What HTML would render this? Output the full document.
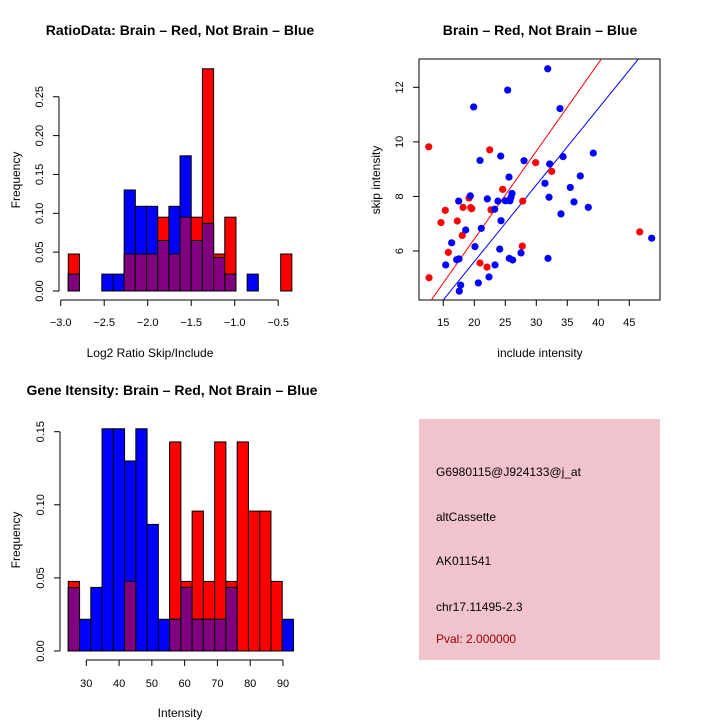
<!DOCTYPE html>
<html><head><meta charset="utf-8"><style>
body{margin:0;background:#fff}
svg{display:block;font-family:"Liberation Sans",sans-serif}
</style></head><body>
<svg id="chart" width="720" height="720" viewBox="0 0 720 720">
<rect width="720" height="720" fill="#fff"/>
<text x="180" y="35" text-anchor="middle" font-size="14" font-weight="bold">RatioData: Brain – Red, Not Brain – Blue</text>
<text x="540" y="35" text-anchor="middle" font-size="14" font-weight="bold">Brain – Red, Not Brain – Blue</text>
<text x="172" y="395" text-anchor="middle" font-size="14" font-weight="bold">Gene Itensity: Brain – Red, Not Brain – Blue</text>
<text x="150" y="357" text-anchor="middle" font-size="12">Log2 Ratio Skip/Include</text>
<text x="20" y="180" text-anchor="middle" font-size="12" transform="rotate(-90 20 180)">Frequency</text>
<text x="540" y="357" text-anchor="middle" font-size="12">include intensity</text>
<text x="380" y="180" text-anchor="middle" font-size="12" transform="rotate(-90 380 180)">skip intensity</text>
<text x="180" y="717" text-anchor="middle" font-size="12">Intensity</text>
<text x="20" y="540" text-anchor="middle" font-size="12" transform="rotate(-90 20 540)">Frequency</text>
<g>
<rect x="419" y="419" width="241" height="241" fill="#f1c3cd"/>
<text x="436" y="476" font-size="12">G6980115@J924133@j_at</text>
<text x="436" y="521" font-size="12">altCassette</text>
<text x="436" y="565" font-size="12">AK011541</text>
<text x="436" y="611" font-size="12">chr17.11495-2.3</text>
<text x="436" y="643" font-size="12" fill="#a00000">Pval: 2.000000</text>
</g>
<g id="g1"></g><g id="g2"></g><g id="g3"></g>
</svg>
<script>
const ratioRed=[0.0476,0,0,0,0,0.0476,0.0476,0.0476,0.095,0.0476,0.095,0.095,0.286,0.0476,0.095,0,0,0,0,0.0476];
const ratioBlue=[0.0217,0,0,0.0217,0.0217,0.130,0.109,0.109,0.065,0.109,0.174,0.065,0.087,0.043,0.0217,0,0.0217,0,0,0];
const ratioStart=-2.913, ratioWidth=0.1285;
const ratioXTicks=[-3.0,-2.5,-2.0,-1.5,-1.0,-0.5];
const freqTicks1=[0,0.05,0.10,0.15,0.20,0.25];

const intRed=[0.0476,0,0,0,0,0.0476,0,0,0,0.143,0.0476,0.0957,0.0476,0.143,0.0476,0.143,0.0957,0.0957,0.0476,0];
const intBlue=[0.0433,0.0217,0.0435,0.152,0.152,0.130,0.152,0.0866,0.0217,0.0217,0.0435,0.0217,0.0217,0.0217,0.0435,0,0,0,0,0.0217];
const intStart=24.5, intWidth=3.435;
const intXTicks=[30,40,50,60,70,80,90];
const freqTicks3=[0,0.05,0.10,0.15];

const redX=[12.65,12.7,14.63,15.32,15.81,17.26,18.06,18.18,19.15,19.42,19.58,20.92,22.05,22.48,22.69,24.58,27.81,27.74,29.9,32.48,46.68];
const redY=[9.82,5.02,7.04,7.49,5.95,7.10,6.57,7.60,7.94,7.59,7.55,5.56,5.41,9.71,7.51,8.26,7.83,6.18,9.24,8.92,6.70];
const blueX=[15.39,16.35,17.48,17.16,17.53,17.8,17.58,18.61,19.35,19.9,20.11,20.65,20.92,21.13,22.1,22.37,23.29,23.34,23.82,24.1,24.26,24.31,25.0,25.38,25.6,25.65,25.76,25.92,26.08,26.19,27.53,28.02,31.4,31.84,31.89,32.05,32.16,33.82,33.98,34.31,35.48,36.08,37.1,38.39,39.19,48.61];
const blueY=[5.49,6.30,7.83,5.68,5.71,4.75,4.53,6.77,8.02,11.28,6.16,4.83,9.32,6.83,7.91,5.05,7.53,5.49,7.83,6.07,9.48,7.11,7.84,11.90,8.71,5.73,7.84,7.97,8.11,5.67,5.93,9.31,8.48,12.68,5.73,7.97,9.19,11.22,7.36,9.46,8.33,7.80,8.75,7.60,9.59,6.47];
const redSlope=0.322, blueSlope=0.2806;
const scXTicks=[15,20,25,30,35,40,45];
const scYTicks=[6,8,10,12];

const NS='http://www.w3.org/2000/svg';
function mk(parent,tag,attrs){const e=document.createElementNS(NS,tag);for(const k in attrs)e.setAttribute(k,attrs[k]);parent.appendChild(e);return e;}

function hist(g,red,blue,start,width,xs,ys,xticks,yticks,prefix,yAxisX,xAxisY,xTickLabelY){
  for(let i=0;i<red.length;i++){
    const x0=xs(start+i*width),x1=xs(start+(i+1)*width);
    const r=red[i],b=blue[i];
    if(r>0){const e=mk(g,'rect',{x:x0,y:ys(r),width:x1-x0,height:ys(0)-ys(r),fill:'#ff0000',stroke:'#000','stroke-width':1});
      
      }
    if(b>0){const e=mk(g,'rect',{x:x0,y:ys(b),width:x1-x0,height:ys(0)-ys(b),fill:'#0000ff',stroke:'#000','stroke-width':1});
      
      }
    const m=Math.min(r,b);
    if(m>0){const e=mk(g,'rect',{x:x0,y:ys(m),width:x1-x0,height:ys(0)-ys(m),fill:'#800080',stroke:'#000','stroke-width':1});
      
      }
  }
  const ax=mk(g,'line',{x1:yAxisX,x2:yAxisX,y1:ys(yticks[0]),y2:ys(yticks[yticks.length-1]),stroke:'#000'});
  
  
  yticks.forEach(t=>{
    mk(g,'line',{x1:yAxisX-6,x2:yAxisX,y1:ys(t),y2:ys(t),stroke:'#000'});
    const lx=yAxisX-16;
    const tx=mk(g,'text',{x:lx,y:ys(t),'font-size':11,'text-anchor':'middle',transform:`rotate(-90 ${lx} ${ys(t)})`});
    tx.textContent=t.toFixed(2);
    
    
  });
  const bx=mk(g,'line',{x1:xs(xticks[0]),x2:xs(xticks[xticks.length-1]),y1:xAxisY,y2:xAxisY,stroke:'#000'});
  
  
  xticks.forEach(t=>{
    mk(g,'line',{x1:xs(t),x2:xs(t),y1:xAxisY,y2:xAxisY+6,stroke:'#000'});
    const tx=mk(g,'text',{x:xs(t),y:xTickLabelY,'font-size':11,'text-anchor':'middle'});
    tx.textContent=(t<0?'\u2212':'')+(Number.isInteger(t)&&prefix==='intensity'?String(Math.abs(t)):Math.abs(t).toFixed(1));
    
    
  });
}

const xs1=v=>60.7+(v+3)*87.0, ys1=v=>291-v*777;
hist(document.getElementById('g1'),ratioRed,ratioBlue,ratioStart,ratioWidth,xs1,ys1,ratioXTicks,freqTicks1,'ratio',59,300,326);
const xs3=v=>86.3+(v-30)*3.278, ys3=v=>651-v*1462;
hist(document.getElementById('g3'),intRed,intBlue,intStart,intWidth,xs3,ys3,intXTicks,freqTicks3,'intensity',60,660,687);

const g2=document.getElementById('g2');
const xs2=v=>443.3+(v-15)*6.2, ys2=v=>251-(v-6)*27.28;
const cp=mk(g2,'clipPath',{id:'clip2'});mk(cp,'rect',{x:419,y:59,width:241,height:241});
const box=mk(g2,'rect',{x:419,y:59,width:241,height:241,fill:'none',stroke:'#000'});


const xmin=10,xmax=55;
const rl=mk(g2,'line',{x1:xs2(xmin),y1:ys2(redSlope*xmin),x2:xs2(xmax),y2:ys2(redSlope*xmax),stroke:'#ff0000','clip-path':'url(#clip2)'});


const bl=mk(g2,'line',{x1:xs2(xmin),y1:ys2(blueSlope*xmin),x2:xs2(xmax),y2:ys2(blueSlope*xmax),stroke:'#0000ff','clip-path':'url(#clip2)'});


redX.forEach((x,i)=>{const c=mk(g2,'circle',{cx:xs2(x),cy:ys2(redY[i]),r:3.6,fill:'#ff0000'});
  
  });
blueX.forEach((x,i)=>{const c=mk(g2,'circle',{cx:xs2(x),cy:ys2(blueY[i]),r:3.6,fill:'#0000ff'});
  
  });
scXTicks.forEach(t=>{mk(g2,'line',{x1:xs2(t),x2:xs2(t),y1:300,y2:306,stroke:'#000'});
  const tx=mk(g2,'text',{x:xs2(t),y:326,'font-size':11,'text-anchor':'middle'});tx.textContent=t;
  
  });
scYTicks.forEach(t=>{mk(g2,'line',{x1:413,x2:419,y1:ys2(t),y2:ys2(t),stroke:'#000'});
  const tx=mk(g2,'text',{x:403,y:ys2(t),'font-size':11,'text-anchor':'middle',transform:`rotate(-90 403 ${ys2(t)})`});tx.textContent=t;
  
  });
</script>
</body></html>
